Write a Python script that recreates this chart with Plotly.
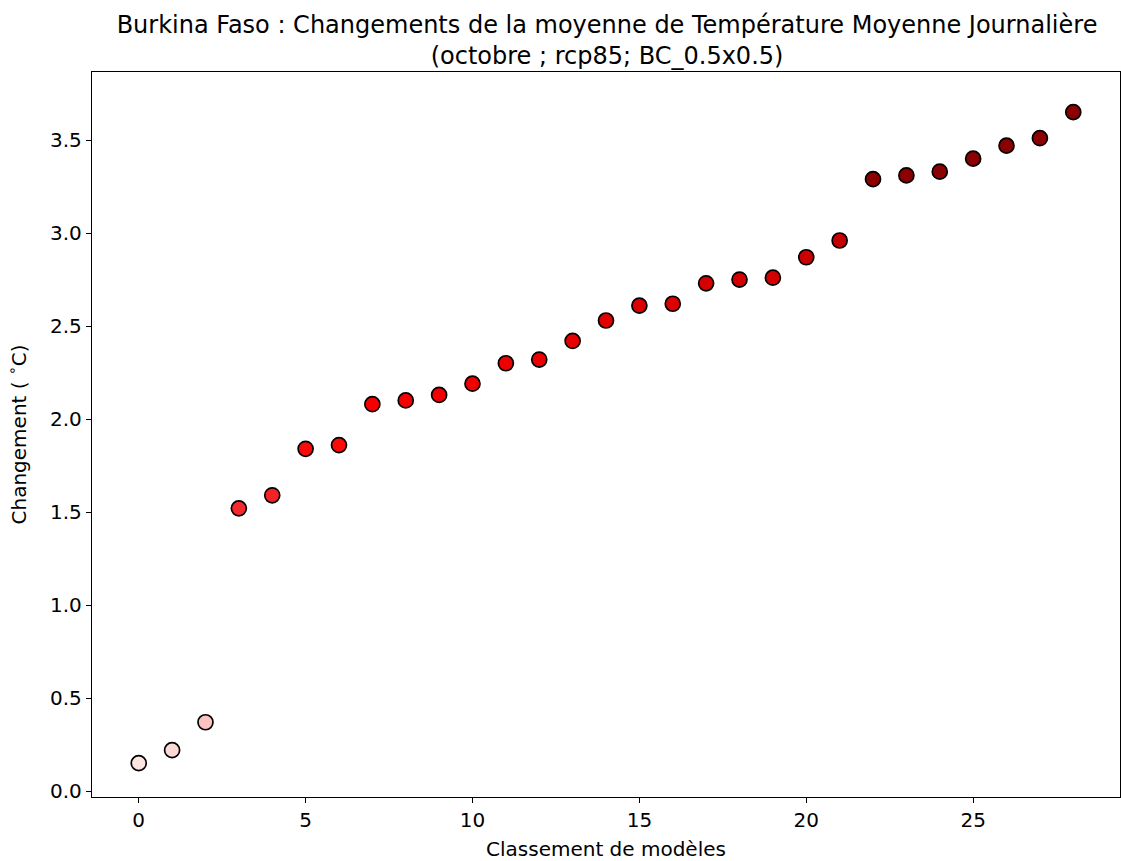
import plotly.graph_objects as go

# classement des modeles et changement de temperature (degC)
rangs = list(range(29))
changements = [0.15, 0.22, 0.37, 1.52, 1.59, 1.84, 1.86, 2.08, 2.10, 2.13,
               2.19, 2.30, 2.32, 2.42, 2.53, 2.61, 2.62, 2.73, 2.75, 2.76,
               2.87, 2.96, 3.29, 3.31, 3.33, 3.40, 3.47, 3.51, 3.65]
couleurs = ["#fde5e1", "#fdd9d6", "#fcc2c0", "#f52a2e", "#f32326",
            "#fb0a0a", "#fb0a0a", "#f50000", "#f50000", "#f30000",
            "#f00000", "#ec0000", "#ea0000", "#e60000", "#e00000",
            "#dc0000", "#dc0000", "#d50000", "#d40000", "#d30000",
            "#cc0000", "#c40000", "#8b0000", "#8b0000", "#8b0000",
            "#8b0000", "#8b0000", "#8b0000", "#8b0000"]
y_ticks = [0.0, 0.5, 1.0, 1.5, 2.0, 2.5, 3.0, 3.5]
x_ticks = [0, 5, 10, 15, 20, 25]

fig = go.Figure(go.Scatter(
    x=rangs, y=changements, mode="markers",
    marker=dict(size=15, color=couleurs, line=dict(color="black", width=1.7)),
    showlegend=False,
))

police = dict(family="DejaVu Sans", size=20, color="black")
axe = dict(showgrid=False, zeroline=False, showline=True, linecolor="black",
           linewidth=1.3, mirror=True, ticks="outside", ticklen=5,
           tickcolor="black", tickfont=police, automargin=False)

fig.update_layout(
    width=1121, height=861,
    paper_bgcolor="white", plot_bgcolor="white",
    margin=dict(l=92, r=1, t=72, b=64),
    font=police,
    title=dict(
        text="Burkina Faso : Changements de la moyenne de Température Moyenne Journalière<br>(octobre ; rcp85; BC_0.5x0.5)",
        x=0.5415, xanchor="center", y=0.962, yanchor="top",
        font=dict(family="DejaVu Sans", size=24, color="black"),
    ),
    xaxis=dict(axe, range=[-1.4, 29.4], tickvals=x_ticks,
               title=dict(text="Classement de modèles", font=police, standoff=12)),
    yaxis=dict(axe, range=[-0.032, 3.866], tickvals=y_ticks, tickformat=".1f",
               title=dict(text="Changement ( <sup>∘</sup>C)", font=police, standoff=18)),
)

# pas de marge de page autour de la figure, pas de barre d'outils
fig.write_html("out.html", config={"displayModeBar": False},
               post_script="document.body.style.margin='0';document.body.style.overflow='hidden';")
